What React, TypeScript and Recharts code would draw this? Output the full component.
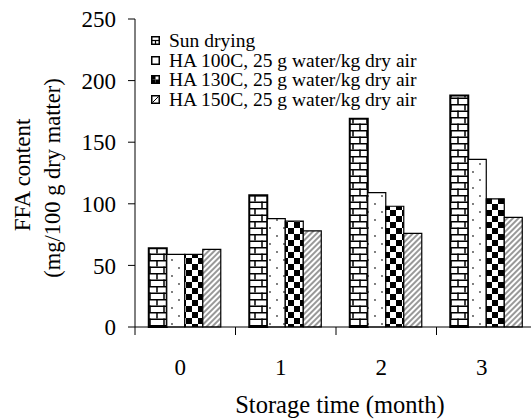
import React from "react";
import { BarChart, Bar, XAxis, YAxis } from "recharts";

const months = ["0", "1", "2", "3"];
const sunDrying = [64, 107, 169, 188];
const ha100 = [59, 88, 109, 136];
const ha130 = [59, 86, 98, 104];
const ha150 = [63, 78, 76, 89];
const yTicks = [0, 50, 100, 150, 200, 250];

const seriesNames = [
  "Sun drying",
  "HA 100C, 25 g water/kg dry air",
  "HA 130C, 25 g water/kg dry air",
  "HA 150C, 25 g water/kg dry air",
];

const data = months.map((m, i) => ({
  month: m,
  sun: sunDrying[i],
  ha100: ha100[i],
  ha130: ha130[i],
  ha150: ha150[i],
}));

const FONT = "'Liberation Serif', 'Times New Roman', serif";
const W = 545;
const H = 419;
const MARGIN = { top: 19, right: 8, bottom: 0, left: 0 };
const Y_W = 135;
const X_H = 92;
const BAND = (W - MARGIN.left - MARGIN.right - Y_W) / months.length;

function XTick(props: any) {
  const { x, y, payload } = props;
  const lx = x - BAND / 2;
  return (
    <g>
      <line x1={lx} x2={lx} y1={y - 8} y2={y} stroke="#000" strokeWidth={1} />
      <text x={x - 5} y={y + 40} textAnchor="middle" fontSize={23} fontFamily={FONT} fill="#000">
        {payload.value}
      </text>
    </g>
  );
}

function YTitle(props: any) {
  const vb = props.viewBox || { x: 0, y: 19, width: 135, height: 308 };
  const cy = vb.y + vb.height / 2;
  return (
    <g fontFamily={FONT} fill="#000">
      <text
        x={22}
        y={cy + 2}
        transform={`rotate(-90, 22, ${cy + 2})`}
        textAnchor="middle"
        dominantBaseline="central"
        fontSize={23}
      >
        FFA content
      </text>
      <text
        x={52}
        y={cy + 5}
        transform={`rotate(-90, 52, ${cy + 5})`}
        textAnchor="middle"
        dominantBaseline="central"
        fontSize={22.5}
      >
        (mg/100 g dry matter)
      </text>
    </g>
  );
}

function LegendIcon({ idx }: { idx: number }) {
  return (
    <svg width={9} height={9} style={{ marginRight: 9, flex: "none" }}>
      <rect x={0.75} y={0.75} width={7.5} height={7.5} fill="#fff" stroke="#000" strokeWidth={1.5} />
      {idx === 0 && (
        <>
          <line x1={0} x2={9} y1={4.5} y2={4.5} stroke="#000" strokeWidth={1.2} />
          <line x1={4.5} x2={4.5} y1={4.5} y2={9} stroke="#000" strokeWidth={1.2} />
        </>
      )}
      {idx === 2 && (
        <>
          <rect x={1} y={1} width={3.5} height={3.5} fill="#000" />
          <rect x={4.5} y={4.5} width={3.5} height={3.5} fill="#000" />
          <rect x={1} y={4.5} width={3.5} height={3.5} fill="#000" />
        </>
      )}
      {idx === 3 && <line x1={1.5} x2={7.5} y1={7.5} y2={1.5} stroke="#000" strokeWidth={1} />}
    </svg>
  );
}

function ChartLegend() {
  return (
    <div
      style={{
        position: "absolute",
        left: 151,
        top: 31,
        fontFamily: FONT,
        fontSize: 19.5,
        color: "#000",
        lineHeight: 1,
      }}
    >
      {seriesNames.map((n, i) => (
        <div key={n} style={{ display: "flex", alignItems: "center", height: 19.6, whiteSpace: "nowrap" }}>
          <LegendIcon idx={i} />
          <span>{n}</span>
        </div>
      ))}
    </div>
  );
}

export default function App() {
  return (
    <div
      style={{
        position: "fixed",
        left: 0,
        top: 0,
        width: 531,
        height: 419,
        overflow: "hidden",
        background: "#fff",
      }}
    >
      <BarChart width={W} height={H} data={data} margin={MARGIN} barCategoryGap="13.7%" barGap={0}>
        <defs>
          <pattern id="brick" width={14} height={13} patternUnits="userSpaceOnUse">
            <rect width={14} height={13} fill="#fff" />
            <line x1={0} x2={14} y1={0.75} y2={0.75} stroke="#000" strokeWidth={1.5} />
            <line x1={0} x2={14} y1={7.25} y2={7.25} stroke="#000" strokeWidth={1.5} />
            <line x1={3} x2={3} y1={0} y2={6.5} stroke="#000" strokeWidth={1.5} />
            <line x1={10} x2={10} y1={6.5} y2={13} stroke="#000" strokeWidth={1.5} />
          </pattern>
          <pattern id="dots" width={14} height={16} patternUnits="userSpaceOnUse">
            <rect width={14} height={16} fill="#fff" />
            <circle cx={4} cy={4} r={0.9} fill="#444" />
            <circle cx={11} cy={12} r={0.9} fill="#444" />
          </pattern>
          <pattern id="checker" width={12} height={12} patternUnits="userSpaceOnUse">
            <rect width={12} height={12} fill="#fff" />
            <rect x={0} y={0} width={6} height={6} fill="#000" />
            <rect x={6} y={6} width={6} height={6} fill="#000" />
          </pattern>
          <pattern id="hatch" width={4} height={4} patternUnits="userSpaceOnUse" patternTransform="rotate(45)">
            <rect width={4} height={4} fill="#fff" />
            <line x1={1} x2={1} y1={0} y2={4} stroke="#333" strokeWidth={1} />
          </pattern>
        </defs>
        <XAxis
          dataKey="month"
          height={X_H}
          axisLine={{ stroke: "#000", strokeWidth: 1 }}
          tickLine={false}
          tickSize={8}
          tickMargin={0}
          tick={<XTick />}
          interval={0}
          label={{
            value: "Storage time (month)",
            position: "insideBottom",
            offset: 6,
            fontSize: 24.5,
            fontFamily: FONT,
            fill: "#000",
            dx: 4,
          }}
        />
        <YAxis
          width={Y_W}
          domain={[0, 250]}
          ticks={yTicks}
          interval={0}
          axisLine={{ stroke: "#000", strokeWidth: 1 }}
          tickLine={{ stroke: "#000", strokeWidth: 1 }}
          tickSize={7}
          tickMargin={12}
          tick={{ fontSize: 23, fontFamily: FONT, fill: "#000" }}
          label={<YTitle />}
        />
        <Bar dataKey="sun" name={seriesNames[0]} fill="url(#brick)" stroke="#000" strokeWidth={2} isAnimationActive={false} />
        <Bar dataKey="ha100" name={seriesNames[1]} fill="url(#dots)" stroke="#000" strokeWidth={1.2} isAnimationActive={false} />
        <Bar dataKey="ha130" name={seriesNames[2]} fill="url(#checker)" stroke="#000" strokeWidth={1.2} isAnimationActive={false} />
        <Bar dataKey="ha150" name={seriesNames[3]} fill="url(#hatch)" stroke="#000" strokeWidth={1.2} isAnimationActive={false} />
      </BarChart>
      <ChartLegend />
    </div>
  );
}
